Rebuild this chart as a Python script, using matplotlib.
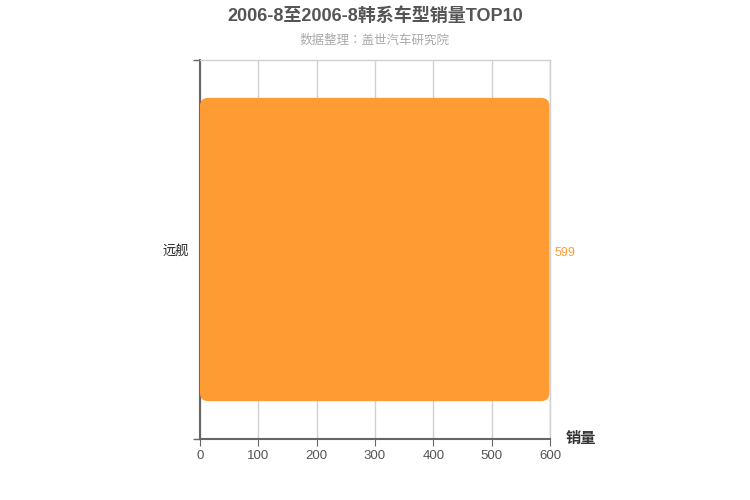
import matplotlib
matplotlib.use("Agg")
import matplotlib.pyplot as plt
from matplotlib.patches import FancyBboxPatch

plt.rcParams['font.family'] = ['Liberation Sans', 'Noto Sans CJK SC', 'DejaVu Sans']

# data
models = ["远舰"]
sales = [599]
x_ticks = [0, 100, 200, 300, 400, 500, 600]

title = "2006-8至2006-8韩系车型销量TOP10"
subtitle = "数据整理：盖世汽车研究院"
bar_color = "#ff9b33"

fig = plt.figure(figsize=(7.5, 5), dpi=100)
ax = fig.add_axes([200 / 750, 1 - 439 / 500, 350 / 750, 379 / 500])

bars = ax.barh(models, sales, height=0.8, color=bar_color)
ax.set_xlim(0, 600)
ax.set_ylim(-0.5, len(models) - 0.5)

# swap plain bars for rounded ones
x_per_px = 600 / 350
y_per_px = len(models) / 379
r = 8 * x_per_px
for b in bars:
    x0, y0 = b.get_x(), b.get_y()
    w, h = b.get_width(), b.get_height()
    b.set_visible(False)
    p = FancyBboxPatch((x0, y0), w, h,
                       boxstyle=f"round,pad=0,rounding_size={r}",
                       mutation_aspect=y_per_px / x_per_px,
                       facecolor=bar_color, edgecolor="none", zorder=3)
    ax.add_patch(p)

for i, v in enumerate(sales):
    ax.text(v + 8, i - 0.008, str(v), va="center", ha="left", fontsize=9,
            color=bar_color, fontweight="medium")

ax.set_xticks(x_ticks)
ax.set_xticklabels([str(t) for t in x_ticks])
ax.xaxis.grid(True, color="#d0d0d0", linewidth=1)
ax.set_axisbelow(True)

ax.set_yticks([-0.5, 0.5], minor=False)
ax.set_yticklabels([])
ax.set_yticks(range(len(models)), minor=True)
ax.set_yticklabels(models, minor=True)
ax.tick_params(axis="y", which="minor", length=0, pad=8, labelsize=9.5,
               labelcolor="#222222")
ax.tick_params(axis="y", which="major", length=5, color="#666666", width=1)
ax.tick_params(axis="x", length=5, color="#666666", labelsize=9.5,
               labelcolor="#555555", pad=3)

for s in ["left", "bottom"]:
    ax.spines[s].set_color("#666666")
    ax.spines[s].set_linewidth(1.5)
for s in ["top", "right"]:
    ax.spines[s].set_color("#d0d0d0")
    ax.spines[s].set_linewidth(1)

ax.text(1.045, 0.0, "销量", transform=ax.transAxes, fontsize=11,
        color="#333333", ha="left", va="center", fontweight="bold")

fig.text(0.5, 1 - 16 / 500, title, ha="center", va="center", fontsize=13,
         fontweight="bold", color="#555555")
fig.text(0.5, 1 - 41 / 500, subtitle, ha="center", va="center", fontsize=9,
         color="#aaaaaa", family=['Liberation Sans', 'Noto Sans CJK TC'])

fig.savefig("out.png", dpi=100)
